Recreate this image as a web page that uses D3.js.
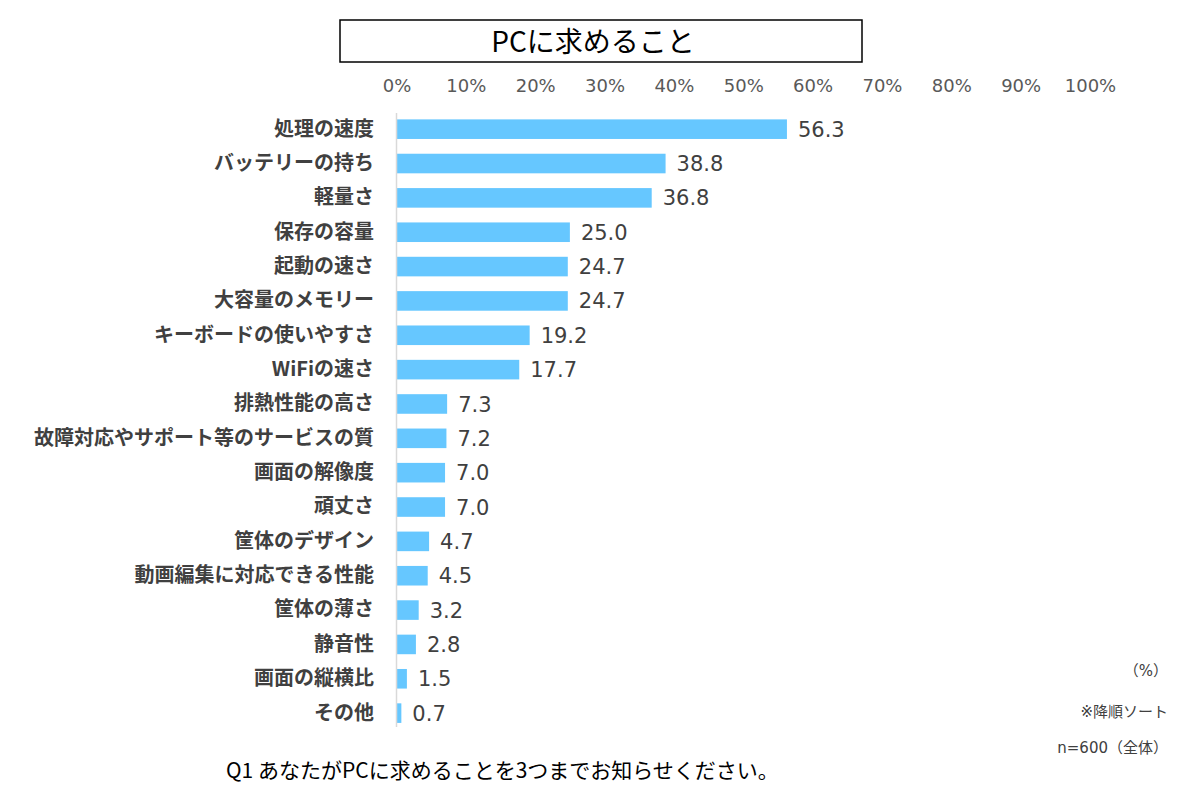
<!DOCTYPE html>
<html><head><meta charset="utf-8">
<script src="https://cdn.jsdelivr.net/npm/d3@7"></script>
<style>body{margin:0;background:#fff}svg{display:block}text{font-family:"Noto Sans CJK JP","Noto Sans",sans-serif}</style>
</head><body><svg id="c" width="1200" height="790"></svg>
<script>
const categories = ["処理の速度","バッテリーの持ち","軽量さ","保存の容量","起動の速さ","大容量のメモリー","キーボードの使いやすさ","WiFiの速さ","排熱性能の高さ","故障対応やサポート等のサービスの質","画面の解像度","頑丈さ","筐体のデザイン","動画編集に対応できる性能","筐体の薄さ","静音性","画面の縦横比","その他"];
const values = [56.3,38.8,36.8,25.0,24.7,24.7,19.2,17.7,7.3,7.2,7.0,7.0,4.7,4.5,3.2,2.8,1.5,0.7];
const ticks = [0,10,20,30,40,50,60,70,80,90,100];
const title = "PCに求めること";
const question = "Q1 あなたがPCに求めることを3つまでお知らせください。";
const notes = ["（%）","※降順ソート","n=600（全体）"];

const latin = "'DejaVu Sans','Noto Sans CJK JP',sans-serif";
const svg = d3.select("#c");
const x = d3.scaleLinear().domain([0,100]).range([396.5,1090]);
const y = d3.scaleBand().domain(categories).range([112,730.3]).paddingInner(0.43).paddingOuter(0.215);

// title box
svg.append("rect").attr("x",340).attr("y",20).attr("width",522).attr("height",42)
  .attr("fill","#fff").attr("stroke","#000").attr("stroke-width",1.5);
svg.append("text").attr("x",593).attr("y",52).attr("text-anchor","middle")
  .attr("font-size",28).attr("fill","#000").text(title);

// top axis
const xAxis = d3.axisTop(x).tickValues(ticks).tickFormat(d=>d+"%").tickSize(0).tickPadding(0);
const gx = svg.append("g").attr("transform","translate(0,92)").call(xAxis);
gx.select(".domain").remove();
gx.selectAll("text").attr("font-size",18).attr("fill","#595959").attr("dy",0)
  .style("font-family",latin);

// bars
svg.append("g").selectAll("rect").data(values).join("rect")
  .attr("x",x(0)).attr("y",(d,i)=>y(categories[i]))
  .attr("width",d=>x(d)-x(0)).attr("height",y.bandwidth())
  .attr("fill","#66C7FF");

// axis line
svg.append("line").attr("x1",x(0)).attr("x2",x(0)).attr("y1",113).attr("y2",727)
  .attr("stroke","#d9d9d9").attr("stroke-width",1.5);

// category labels
const gy = svg.append("g").attr("transform","translate(374,0)")
  .call(d3.axisLeft(y).tickSize(0).tickPadding(0));
gy.select(".domain").remove();
gy.selectAll("text").attr("font-size",20).attr("font-weight","bold").attr("fill","#404040")
  .style("font-family","'Noto Sans CJK JP',sans-serif");

// value labels
svg.append("g").selectAll("text").data(values).join("text")
  .attr("x",d=>x(d)+11).attr("y",(d,i)=>y(categories[i])+y.bandwidth()/2)
  .attr("dy","0.36em").attr("font-size",21).attr("fill","#404040")
  .style("font-family",latin)
  .text(d=>d.toFixed(1));

// notes
const ny = [671,712,748];
svg.append("g").selectAll("text").data(notes).join("text")
  .attr("x",1168).attr("y",(d,i)=>ny[i]).attr("dy","0.35em").attr("text-anchor","end")
  .attr("font-size",15).attr("fill","#404040").style("font-family",latin).text(d=>d);

svg.append("text").attr("x",226).attr("y",770).attr("dy","0.36em")
  .attr("font-size",21).attr("fill","#000").text(question);
</script></body></html>
